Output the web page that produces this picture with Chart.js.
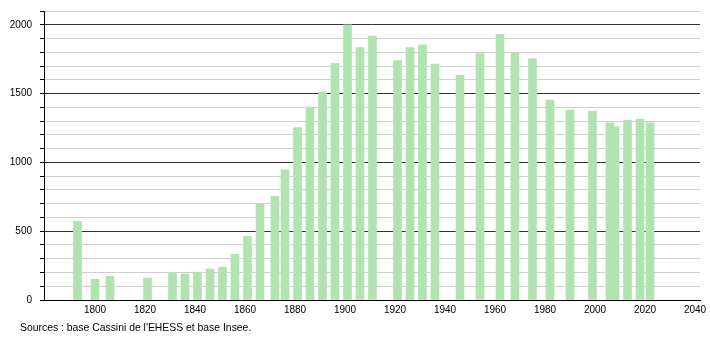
<!DOCTYPE html>
<html>
<head>
<meta charset="utf-8">
<script src="https://cdn.jsdelivr.net/npm/chart.js@4"></script>
<style>
  html, body { margin: 0; padding: 0; background: #fff; }
  #wrap { position: relative; width: 710px; height: 340px; }
  #src { position: absolute; left: 20px; top: 322px; font: 10.4px "Liberation Sans", Arial, sans-serif; color: #000; white-space: nowrap; }
</style>
</head>
<body>
<div id="wrap">
  <canvas id="c" width="710" height="340"></canvas>
  <div id="src">Sources : base Cassini de l'EHESS et base Insee.</div>
</div>
<script>
const years = [1793, 1800, 1806, 1821, 1831, 1836, 1841, 1846, 1851, 1856, 1861, 1866, 1872, 1876, 1881, 1886, 1891, 1896, 1901, 1906, 1911, 1921, 1926, 1931, 1936, 1946, 1954, 1962, 1968, 1975, 1982, 1990, 1999, 2006, 2008, 2013, 2018, 2022];
const population = [571, 150, 173, 159, 193, 190, 202, 226, 238, 332, 462, 699, 754, 946, 1252, 1402, 1512, 1720, 1999, 1835, 1917, 1739, 1835, 1855, 1715, 1633, 1790, 1931, 1794, 1754, 1452, 1380, 1373, 1288, 1259, 1308, 1315, 1288];
const xTickYears = [1800, 1820, 1840, 1860, 1880, 1900, 1920, 1940, 1960, 1980, 2000, 2020, 2040];
const yTickValues = [0, 500, 1000, 1500, 2000];

const points = years.map((y, i) => ({ x: y, y: population[i] }));
const yAllTicks = [];
for (let v = 0; v <= 2100; v += 100) yAllTicks.push(v);

new Chart(document.getElementById('c'), {
  type: 'bar',
  data: {
    datasets: [{
      data: points,
      backgroundColor: '#b0e3b0',
      borderWidth: 0,
      barThickness: 8,
      grouped: false
    }]
  },
  options: {
    responsive: false,
    animation: false,
    devicePixelRatio: 1,
    layout: { padding: { top: 11, right: 10, left: 0, bottom: 0 } },
    plugins: { legend: { display: false }, tooltip: { enabled: false } },
    scales: {
      x: {
        type: 'linear',
        offset: false,
        min: 1779.6,
        max: 2042,
        afterBuildTicks: s => { s.ticks = xTickYears.map(v => ({ value: v })); },
        afterFit: s => { s.height = 40; s.paddingLeft = 0; s.paddingRight = 0; },
        grid: { display: false, drawTicks: false, offset: false },
        border: { display: true, color: '#000', width: 1 },
        ticks: {
          autoSkip: false,
          maxRotation: 0,
          padding: 4,
          color: '#000',
          font: { family: '"Liberation Sans", Arial, sans-serif', size: 10 },
          callback: v => String(v)
        }
      },
      y: {
        min: 0,
        max: 2100,
        afterBuildTicks: s => { s.ticks = yAllTicks.map(v => ({ value: v })); },
        afterFit: s => { s.width = 44; s.paddingTop = 0; s.paddingBottom = 0; },
        grid: {
          color: c => (c.tick && c.tick.value % 500 === 0) ? '#333' : '#cfcfcf',
          tickColor: '#000',
          tickLength: 4,
          lineWidth: 1
        },
        border: { display: true, color: '#000', width: 1 },
        ticks: {
          autoSkip: false,
          padding: 8,
          color: '#000',
          font: { family: '"Liberation Sans", Arial, sans-serif', size: 10 },
          callback: v => yTickValues.includes(v) ? String(v) : ''
        }
      }
    }
  }
});
</script>
</body>
</html>
